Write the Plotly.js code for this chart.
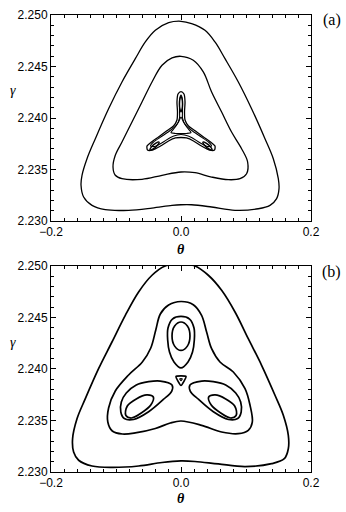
<!DOCTYPE html>
<html>
<head>
<meta charset="utf-8">
<script src="https://cdn.plot.ly/plotly-3.0.1.min.js"></script>
<style>
  html, body { margin: 0; padding: 0; background: #fff; }
  #chart { width: 346px; height: 512px; }
</style>
</head>
<body>
<div id="chart"></div>
<script>
// ---- panel (a): closed orbits in the (theta, gamma) plane ----
const aOuterTheta = [0, 0.0163, 0.0369, 0.0523, 0.0677, 0.0882, 0.1086, 0.1292, 0.1420, 0.1497, 0.1508, 0.1471, 0.1369, 0.1189, 0.0831, 0.0471, 0.0163, 0, -0.0138, -0.0446, -0.0806, -0.1165, -0.1369, -0.1498, -0.1538, -0.1523, -0.1446, -0.1318, -0.1114, -0.0908, -0.0703, -0.0549, -0.0395, -0.0190, 0];
const aOuterGamma = [2.24939, 2.24916, 2.24851, 2.24738, 2.24576, 2.24350, 2.24090, 2.23799, 2.23605, 2.23411, 2.23314, 2.23217, 2.23152, 2.23119, 2.23104, 2.23136, 2.23158, 2.23158, 2.23152, 2.23126, 2.23104, 2.23110, 2.23152, 2.23233, 2.23347, 2.23444, 2.23605, 2.23799, 2.24090, 2.24350, 2.24576, 2.24738, 2.24851, 2.24925, 2.24939];

const aMidTheta = [0, 0.0189, 0.0343, 0.0471, 0.0625, 0.0778, 0.0932, 0.1025, 0.1009, 0.0908, 0.0728, 0.0471, 0.0215, 0, -0.0292, -0.0600, -0.0908, -0.1011, -0.1046, -0.1011, -0.0908, -0.0754, -0.0600, -0.0446, -0.0292, -0.0138, 0];
const aMidGamma = [2.24599, 2.24560, 2.24447, 2.24252, 2.24058, 2.23864, 2.23702, 2.23573, 2.23459, 2.23411, 2.23401, 2.23427, 2.23469, 2.23476, 2.23444, 2.23405, 2.23411, 2.23444, 2.23524, 2.23638, 2.23767, 2.23961, 2.24155, 2.24350, 2.24512, 2.24583, 2.24599];

// three-armed separatrix layer around the centre
const aStarTheta = [0, 0.0046, 0.0062, 0.0054, 0.0062, 0.0115, 0.0223, 0.0346, 0.0454, 0.0523, 0.0515, 0.0438, 0.0315, 0.0192, 0.0085, 0, -0.0085, -0.0192, -0.0315, -0.0438, -0.0515, -0.0523, -0.0454, -0.0346, -0.0223, -0.0115, -0.0062, -0.0054, -0.0062, -0.0046, 0];
const aStarGamma = [2.24257, 2.24233, 2.24155, 2.24058, 2.23981, 2.23922, 2.23874, 2.23816, 2.23767, 2.23728, 2.23689, 2.23689, 2.23728, 2.23777, 2.23806, 2.23811, 2.23806, 2.23777, 2.23728, 2.23689, 2.23689, 2.23728, 2.23767, 2.23816, 2.23874, 2.23922, 2.23981, 2.24058, 2.24155, 2.24233, 2.24257];

const aBandTheta = [0, 0.0023, 0.0023, 0.0023, 0.0069, 0.0177, 0.0300, 0.0423, 0.0469, 0.0408, 0.0285, 0.0162, 0.0054, 0, -0.0054, -0.0162, -0.0285, -0.0408, -0.0469, -0.0423, -0.0300, -0.0177, -0.0069, -0.0023, -0.0023, -0.0023, 0];
const aBandGamma = [2.24223, 2.24175, 2.24078, 2.24000, 2.23932, 2.23874, 2.23820, 2.23767, 2.23728, 2.23723, 2.23762, 2.23811, 2.23835, 2.23840, 2.23835, 2.23811, 2.23762, 2.23723, 2.23728, 2.23767, 2.23820, 2.23874, 2.23932, 2.24000, 2.24078, 2.24175, 2.24223];

const aCoreTheta = [0, 0.0038, 0.0100, 0.0154, 0.0085, 0, -0.0085, -0.0154, -0.0100, -0.0038, 0];
const aCoreGamma = [2.24010, 2.23961, 2.23903, 2.23859, 2.23850, 2.23848, 2.23850, 2.23859, 2.23903, 2.23961, 2.24010];

const aTopIsleTheta = [0, 0.0016, 0.0023, 0.0016, 0, -0.0016, -0.0023, -0.0016, 0];
const aTopIsleGamma = [2.24214, 2.24185, 2.24136, 2.24088, 2.24059, 2.24088, 2.24136, 2.24185, 2.24214];

const aRightIsleTheta = [0.0337, 0.0358, 0.0429, 0.0478, 0.0457, 0.0386, 0.0337];
const aLeftIsleTheta = [-0.0337, -0.0358, -0.0429, -0.0478, -0.0457, -0.0386, -0.0337];
const aSideIsleGamma = [2.23766, 2.23738, 2.23700, 2.23690, 2.23718, 2.23756, 2.23766];

// ---- panel (b) ----
const bOuterTheta = [0, 0.0215, 0.0420, 0.0625, 0.0831, 0.1035, 0.1240, 0.1446, 0.1574, 0.1651, 0.1651, 0.1589, 0.1394, 0.0985, 0.0574, 0.0215, 0, -0.0292, -0.0652, -0.1062, -0.1369, -0.1575, -0.1652, -0.1668, -0.1600, -0.1472, -0.1268, -0.1062, -0.0857, -0.0652, -0.0446, -0.0242, 0];
const bOuterGamma = [2.25019, 2.25000, 2.24910, 2.24764, 2.24553, 2.24294, 2.24036, 2.23745, 2.23551, 2.23356, 2.23226, 2.23129, 2.23081, 2.23053, 2.23078, 2.23102, 2.23107, 2.23092, 2.23058, 2.23044, 2.23058, 2.23114, 2.23194, 2.23323, 2.23517, 2.23712, 2.24003, 2.24262, 2.24521, 2.24748, 2.24910, 2.25000, 2.25019];

const bMidTheta = [0, 0.0189, 0.0317, 0.0394, 0.0471, 0.0600, 0.0805, 0.0985, 0.1062, 0.1097, 0.1035, 0.0882, 0.0625, 0.0317, 0, -0.0165, -0.0395, -0.0703, -0.0903, -0.1057, -0.1126, -0.1114, -0.1011, -0.0806, -0.0595, -0.0465, -0.0388, -0.0318, -0.0191, 0];
const bMidGamma = [2.24655, 2.24624, 2.24521, 2.24359, 2.24197, 2.24068, 2.23971, 2.23809, 2.23648, 2.23485, 2.23405, 2.23372, 2.23388, 2.23453, 2.23495, 2.23476, 2.23422, 2.23379, 2.23369, 2.23398, 2.23485, 2.23621, 2.23786, 2.23942, 2.24068, 2.24204, 2.24379, 2.24534, 2.24621, 2.24655];

const bTopOuterTheta = [0, 0.0132, 0.0200, 0.0205, 0.0177, 0.0108, 0, -0.0108, -0.0177, -0.0205, -0.0200, -0.0132, 0];
const bTopOuterGamma = [2.24510, 2.24485, 2.24398, 2.24282, 2.24165, 2.24068, 2.24010, 2.24068, 2.24165, 2.24282, 2.24398, 2.24485, 2.24510];

const bTopInnerTheta = [0, 0.0098, 0.0138, 0.0098, 0, -0.0098, -0.0138, -0.0098, 0];
const bTopInnerGamma = [2.24456, 2.24418, 2.24320, 2.24222, 2.24180, 2.24222, 2.24320, 2.24418, 2.24456];

const bLeftOuterTheta = [-0.0138, -0.0318, -0.0498, -0.0688, -0.0842, -0.0918, -0.0926, -0.0872, -0.0729, -0.0498, -0.0272, -0.0142, -0.0138];
const bRightOuterTheta = [0.0138, 0.0318, 0.0498, 0.0688, 0.0842, 0.0918, 0.0926, 0.0872, 0.0729, 0.0498, 0.0272, 0.0142, 0.0138];
const bSideOuterGamma = [2.23845, 2.23883, 2.23877, 2.23845, 2.23767, 2.23680, 2.23583, 2.23519, 2.23510, 2.23585, 2.23704, 2.23786, 2.23845];

const bLeftInnerTheta = [-0.0426, -0.0465, -0.0611, -0.0765, -0.0849, -0.0826, -0.0688, -0.0526, -0.0426];
const bRightInnerTheta = [0.0426, 0.0465, 0.0611, 0.0765, 0.0849, 0.0826, 0.0688, 0.0526, 0.0426];
const bSideInnerGamma = [2.23728, 2.23650, 2.23573, 2.23524, 2.23549, 2.23641, 2.23709, 2.23748, 2.23728];

const bTriTheta = [-0.0077, 0, 0.0077, 0.0045, 0, -0.0045, -0.0077];
const bTriGamma = [2.23927, 2.23933, 2.23927, 2.23880, 2.23840, 2.23880, 2.23927];
const bDotTheta = [-0.0020, 0.0020, 0, -0.0020];
const bDotGamma = [2.23906, 2.23906, 2.23886, 2.23906];

const thetaTicks = [-0.2, 0.0, 0.2];
const gammaTicks = [2.230, 2.235, 2.240, 2.245, 2.250];

function orbit(th, ga, panel, width, smooth) {
  return {
    type: 'scatter', mode: 'lines', x: th, y: ga,
    xaxis: panel === 'a' ? 'x' : 'x2',
    yaxis: panel === 'a' ? 'y' : 'y2',
    line: { color: '#000', width: width, shape: 'spline', smoothing: smooth },
    hoverinfo: 'skip', showlegend: false
  };
}

const traces = [
  orbit(aOuterTheta, aOuterGamma, 'a', 1.3, 1),
  orbit(aMidTheta, aMidGamma, 'a', 1.3, 1),
  orbit(aStarTheta, aStarGamma, 'a', 1.3, 0.7),
  orbit(aBandTheta, aBandGamma, 'a', 1.1, 0.7),
  orbit(aCoreTheta, aCoreGamma, 'a', 1.1, 0.7),
  orbit(aTopIsleTheta, aTopIsleGamma, 'a', 1.4, 1),
  orbit(aRightIsleTheta, aSideIsleGamma, 'a', 1.4, 1),
  orbit(aLeftIsleTheta, aSideIsleGamma, 'a', 1.4, 1),

  orbit(bOuterTheta, bOuterGamma, 'b', 1.7, 1),
  orbit(bMidTheta, bMidGamma, 'b', 1.7, 1),
  orbit(bTopOuterTheta, bTopOuterGamma, 'b', 1.7, 1),
  orbit(bTopInnerTheta, bTopInnerGamma, 'b', 1.7, 1),
  orbit(bLeftOuterTheta, bSideOuterGamma, 'b', 1.7, 1),
  orbit(bRightOuterTheta, bSideOuterGamma, 'b', 1.7, 1),
  orbit(bLeftInnerTheta, bSideInnerGamma, 'b', 1.7, 1),
  orbit(bRightInnerTheta, bSideInnerGamma, 'b', 1.7, 1),
  orbit(bTriTheta, bTriGamma, 'b', 1.7, 0.6),
  orbit(bDotTheta, bDotGamma, 'b', 1.2, 0.6)
];

const tickFont = { family: 'Liberation Sans, Arial, sans-serif', size: 12, color: '#000' };

function xAxis(anchor) {
  return {
    anchor: anchor, range: [-0.2, 0.2], tickmode: 'array', tickvals: thetaTicks,
    tickformat: '.1f', ticks: 'inside', ticklen: 5, tickwidth: 1, tickcolor: '#000',
    minor: { dtick: 0.02, tick0: -0.2, ticks: 'inside', ticklen: 3, tickwidth: 1, tickcolor: '#000' },
    showline: true, linecolor: '#000', linewidth: 1, mirror: 'allticks',
    showgrid: false, zeroline: false, tickfont: tickFont, fixedrange: true
  };
}
function yAxis(anchor, domain) {
  return {
    anchor: anchor, domain: domain, range: [2.230, 2.250], tickmode: 'array', tickvals: gammaTicks,
    tickformat: '.3f', ticks: 'inside', ticklen: 5, tickwidth: 1, tickcolor: '#000',
    minor: { dtick: 0.001, tick0: 2.230, ticks: 'inside', ticklen: 3, tickwidth: 1, tickcolor: '#000' },
    showline: true, linecolor: '#000', linewidth: 1, mirror: 'allticks',
    showgrid: false, zeroline: false, tickfont: tickFont, fixedrange: true
  };
}

const greekFont = { family: 'Liberation Serif, Times New Roman, serif', size: 14, color: '#000' };
const panelFont = { family: 'Liberation Serif, Times New Roman, serif', size: 16, color: '#000' };

const layout = {
  width: 346, height: 512,
  margin: { l: 51, r: 35, t: 15, b: 40 },
  paper_bgcolor: '#fff', plot_bgcolor: '#fff',
  xaxis: xAxis('y'),
  yaxis: yAxis('x', [0.5492, 1]),
  xaxis2: xAxis('y2'),
  yaxis2: yAxis('x2', [0, 0.4508]),
  annotations: [
    { text: '(a)', xref: 'paper', yref: 'paper', x: 1.079, y: 0.989, xanchor: 'center', yanchor: 'middle', showarrow: false, font: panelFont },
    { text: '(b)', xref: 'paper', yref: 'paper', x: 1.079, y: 0.4376, xanchor: 'center', yanchor: 'middle', showarrow: false, font: panelFont },
    { text: '<i>γ</i>', xref: 'paper', yref: 'paper', x: -0.148, y: 0.8337, xanchor: 'center', yanchor: 'middle', showarrow: false, font: greekFont },
    { text: '<i>γ</i>', xref: 'paper', yref: 'paper', x: -0.148, y: 0.2823, xanchor: 'center', yanchor: 'middle', showarrow: false, font: greekFont },
    { text: '<b><i>θ</i></b>', xref: 'paper', yref: 'paper', x: 0.5, y: 0.4858, xanchor: 'center', yanchor: 'middle', showarrow: false, font: greekFont },
    { text: '<b><i>θ</i></b>', xref: 'paper', yref: 'paper', x: 0.5, y: -0.058, xanchor: 'center', yanchor: 'middle', showarrow: false, font: greekFont }
  ]
};

Plotly.newPlot('chart', traces, layout, { staticPlot: true, displayModeBar: false });
</script>
</body>
</html>
